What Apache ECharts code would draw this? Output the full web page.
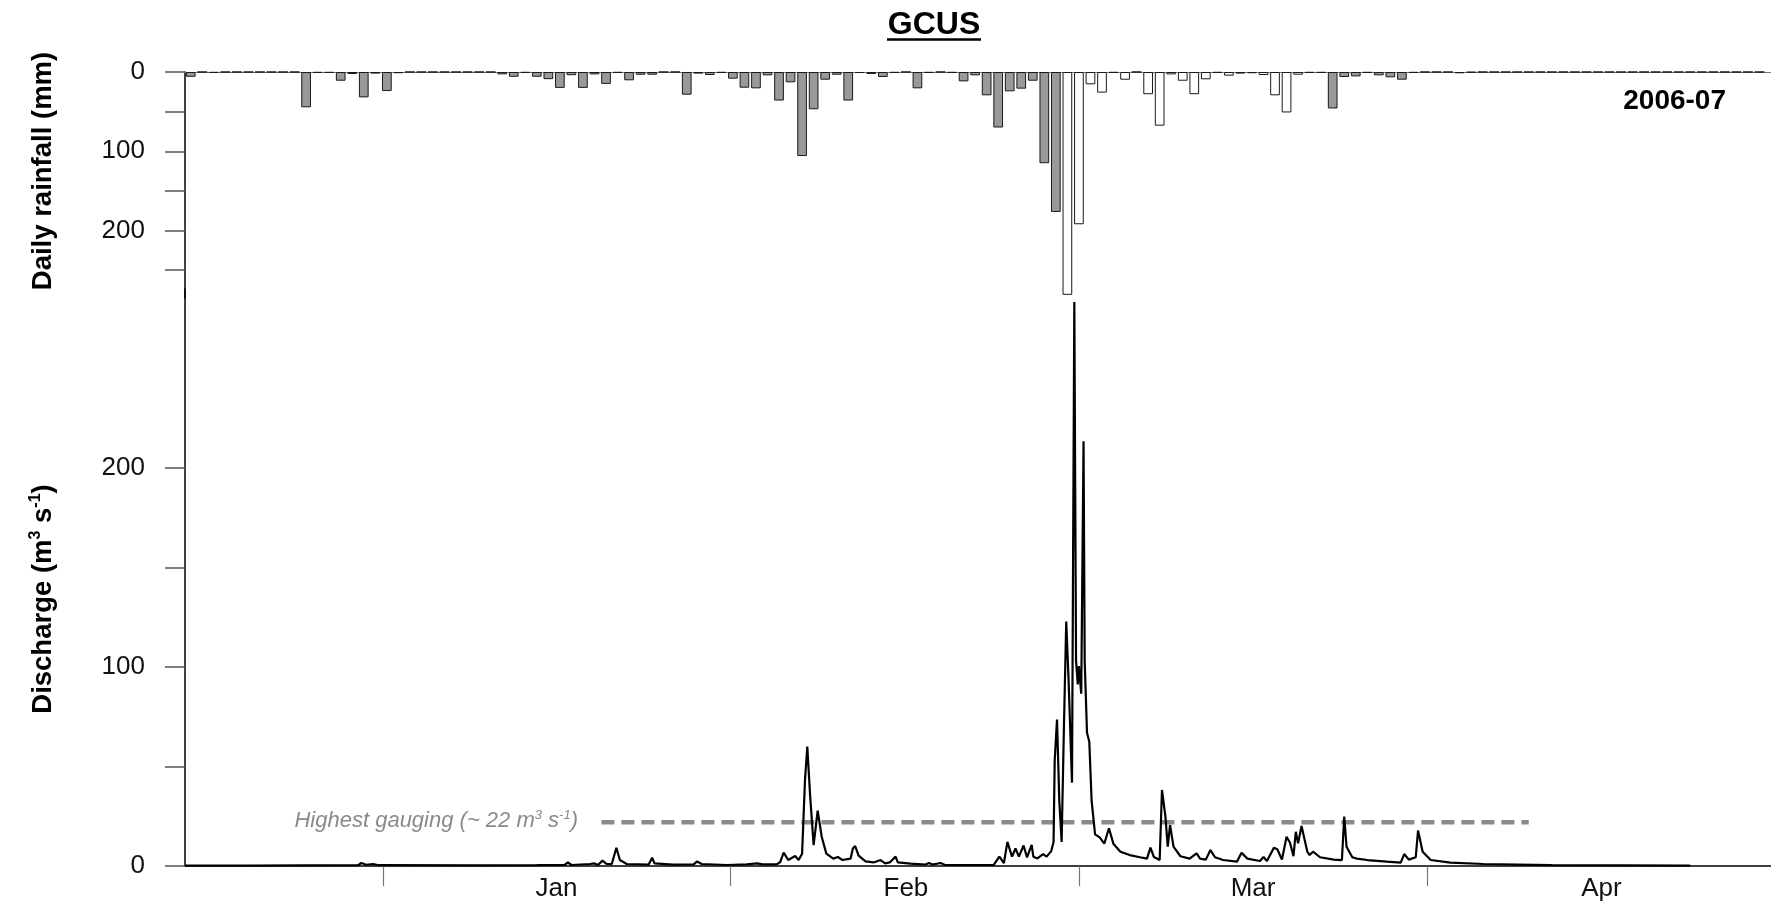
<!DOCTYPE html>
<html>
<head>
<meta charset="utf-8">
<script src="https://cdn.jsdelivr.net/npm/echarts@6/dist/echarts.min.js"></script>
<style>
  html, body { margin: 0; padding: 0; background: #fff; }
  #chart { width: 1771px; height: 906px; }
</style>
</head>
<body>
<div id="chart"></div>
<script>
// daily rainfall (mm), one value per day from day 0
const rainfall = [
  6, 0, 1, 0, 0, 0, 0, 0, 0, 0,
  44.5, 1, 1, 11, 2.5, 32, 2, 24, 1.5, 0,
  0, 0, 0, 0, 0, 0, 0, 3, 6, 1,
  6, 9, 20, 4, 20, 3, 15, 1, 10.5, 3.4,
  3.4, 0, 0, 28.6, 2, 3.8, 1, 8.4, 19.8, 20.6,
  4.2, 36, 13, 106, 47, 9.7, 3.4, 36, 1.3, 2.5,
  6.3, 1, 0, 20.6, 1, 0, 1, 11.8, 4.2, 29.4,
  70, 24.4, 21, 11, 115, 176.5, 281, 192, 15.5, 26,
  1, 9.7, 0, 28, 67.7, 3, 11, 28, 9.2, 1,
  4.6, 2, 1.5, 3.8, 29.4, 51, 3.4, 1, 1, 46,
  6.3, 5.5, 1, 4.2, 6.7, 9.7, 1, 0, 0, 0,
  1.6, 0.5, 0, 0, 0, 0, 0, 0, 0, 0,
  0, 0, 0, 0, 0, 0, 0, 0, 0, 0,
  0, 0, 0, 0, 0, 0, 0
];
// days drawn as open (white) bars
const whiteDays = [76, 96];

// discharge (m3/s) as [day, value]
const discharge = [
  [-0.5, 0.2], [5, 0.2], [10, 0.3], [14.5, 0.4], [14.8, 1.5], [15.2, 0.6], [15.8, 1.0], [16.3, 0.4],
  [25, 0.3], [30, 0.4], [32.4, 0.5], [32.7, 1.8], [33, 0.5], [34.6, 1.0], [35.0, 1.3], [35.3, 0.5],
  [35.7, 2.7], [36.05, 1.0], [36.5, 1.0], [36.9, 9.2], [37.2, 3.0], [37.8, 1.0], [39.7, 0.7], [40.0, 4.2],
  [40.2, 1.3], [41.8, 0.7], [43.6, 0.8], [43.9, 2.3], [44.3, 1.0], [46.5, 0.5], [48.2, 0.8], [49.1, 1.3],
  [49.6, 0.8], [50.8, 0.8], [51.1, 2.0], [51.4, 6.7], [51.8, 3.0], [52.4, 5.0], [52.7, 3.0], [53.0, 6.2],
  [53.25, 43], [53.45, 60], [53.7, 35], [54.0, 10.5], [54.35, 27.8], [54.7, 14.7], [55.1, 6.2], [55.7, 3.7],
  [56.1, 4.5], [56.5, 3.0], [57.2, 3.7], [57.4, 8.8], [57.6, 10], [57.9, 5.2], [58.5, 2.3], [59.2, 1.8],
  [59.8, 3.0], [60.2, 1.3], [60.6, 1.8], [61.1, 4.7], [61.3, 1.8], [62.4, 1.2], [63.7, 0.7], [64.0, 1.5],
  [64.3, 0.7], [65, 1.5], [65.4, 0.5], [69.6, 0.5], [70.1, 4.7], [70.5, 1.5], [70.8, 12.1], [71.2, 4.7],
  [71.5, 8.8], [71.8, 4.7], [72.2, 10.3], [72.5, 4.3], [72.9, 10.6], [73.05, 4.7], [73.4, 3.8], [73.9, 6],
  [74.2, 4.7], [74.6, 7.5], [74.8, 12.1], [74.9, 53], [75.1, 73.6], [75.3, 32.6], [75.5, 12.1], [75.7, 69.8],
  [75.9, 122.9], [76.1, 94], [76.4, 41.9], [76.6, 283.5], [76.75, 103.3], [76.9, 91.3], [77.0, 100.5], [77.2, 86.6],
  [77.4, 213.5], [77.5, 103], [77.7, 67], [77.9, 62.4], [78.1, 32.7], [78.4, 15.9], [78.8, 14.4], [79.2, 11.2],
  [79.6, 19.0], [80.0, 11], [80.6, 7.2], [81.4, 5.5], [82.3, 4.4], [82.9, 3.7], [83.2, 9.2], [83.5, 4.5],
  [84.0, 3.0], [84.2, 38.2], [84.5, 24.8], [84.7, 9.7], [84.9, 20.6], [85.2, 9.7], [85.8, 4.9], [86.6, 3.7],
  [87.2, 6.4], [87.5, 3.7], [88, 3.2], [88.4, 8.0], [88.8, 4.4], [89.5, 3.0], [90.7, 2.2], [91.1, 6.7],
  [91.6, 3.7], [92.7, 2.5], [93.0, 4.5], [93.3, 2.5], [93.9, 9.2], [94.2, 8.4], [94.6, 3.2], [95.0, 14.7],
  [95.3, 11.7], [95.6, 4.9], [95.8, 17.2], [96.0, 11.4], [96.3, 20.1], [96.8, 7.2], [97.0, 5.5], [97.3, 7.2],
  [97.9, 4.4], [99.1, 3.2], [99.8, 3.0], [100.0, 24.8], [100.2, 9.7], [100.7, 4.4], [101.1, 3.7], [102, 3.0],
  [103.7, 2.2], [104.9, 1.7], [105.2, 6.0], [105.6, 3.2], [106.2, 4.4], [106.4, 17.8], [106.8, 7.2], [107.5, 3.0],
  [109.2, 1.7], [112.1, 1.0], [115, 0.7], [118, 0.4], [124, 0.3], [130, 0.2]
];

// highest gauging reference line
const gauging = [[35.6, 22], [116.0, 22]];

// x axis: tick positions and month labels (day units)
const monthTicks = [16.65, 46.8, 77.0, 107.2];
const monthLabelPos = [31.7, 62.0, 92.1, 122.3];
const monthNames = ['Jan', 'Feb', 'Mar', 'Apr'];

const rainTicks = [0, 50, 100, 150, 200, 250];
const rainLabels = [0, 100, 200];
const flowTicks = [0, 50, 100, 150, 200];
const flowLabels = [0, 100, 200];

const FONT = '"Liberation Sans", Arial, sans-serif';

const chart = echarts.init(document.getElementById('chart'), null, { renderer: 'canvas' });

const rainData = rainfall.map(function (v, i) {
  const open = i >= whiteDays[0] && i <= whiteDays[1];
  return {
    value: [i, v],
    itemStyle: { color: open ? '#ffffff' : '#999999' }
  };
});

const yAxisBase = {
  type: 'value',
  axisLine: { show: true, onZero: false, lineStyle: { color: '#000', width: 1.5 } },
  axisTick: { show: true, length: 20, lineStyle: { color: '#555', width: 1.5 } },
  axisLabel: { margin: 40, fontFamily: FONT, fontSize: 26, color: '#111' },
  splitLine: { show: false }
};

chart.setOption({
  animation: false,
  backgroundColor: '#fff',
  grid: [
    { left: 185, width: 1586, top: 72, height: 226 },
    { left: 185, width: 1586, top: 289, height: 577 }
  ],
  xAxis: [
    {
      type: 'value', gridIndex: 0, min: -0.5, max: 137,
      axisLine: { show: true, lineStyle: { color: '#777', width: 1 } },
      axisTick: { show: false }, axisLabel: { show: false }, splitLine: { show: false }
    },
    {
      type: 'value', gridIndex: 1, min: -0.5, max: 137,
      axisLine: { show: true, lineStyle: { color: '#000', width: 1.5 } },
      axisTick: { show: true, length: 20, customValues: monthTicks, lineStyle: { color: '#777', width: 1.2 } },
      axisLabel: {
        show: true, customValues: monthLabelPos, margin: 10,
        fontFamily: FONT, fontSize: 26, color: '#111',
        formatter: function (v) {
          const k = monthLabelPos.indexOf(v);
          return k >= 0 ? monthNames[k] : '';
        }
      },
      splitLine: { show: false }
    }
  ],
  yAxis: [
    Object.assign({}, yAxisBase, {
      gridIndex: 0, inverse: true, min: 0, max: 285,
      axisTick: Object.assign({}, yAxisBase.axisTick, { customValues: rainTicks }),
      axisLabel: Object.assign({}, yAxisBase.axisLabel, { customValues: rainLabels })
    }),
    Object.assign({}, yAxisBase, {
      gridIndex: 1, min: 0, max: 290,
      axisTick: Object.assign({}, yAxisBase.axisTick, { customValues: flowTicks }),
      axisLabel: Object.assign({}, yAxisBase.axisLabel, { customValues: flowLabels })
    })
  ],
  series: [
    {
      name: 'Daily rainfall',
      type: 'bar',
      xAxisIndex: 0, yAxisIndex: 0,
      barWidth: 9.7,
      data: rainData,
      itemStyle: { borderColor: '#1a1a1a', borderWidth: 1 }
    },
    {
      name: 'Highest gauging',
      type: 'line',
      xAxisIndex: 1, yAxisIndex: 1,
      data: gauging,
      showSymbol: false,
      lineStyle: { color: '#8a8a8a', width: 4.5, type: [13, 7] },
      z: 2
    },
    {
      name: 'Discharge',
      type: 'line',
      xAxisIndex: 1, yAxisIndex: 1,
      data: discharge,
      showSymbol: false,
      lineStyle: { color: '#000', width: 2.2 },
      z: 3
    }
  ],
  graphic: [
    {
      type: 'text', x: 934, y: 25,
      style: {
        text: 'GCUS', font: 'bold 32px ' + FONT, fill: '#000',
        align: 'center', verticalAlign: 'middle', textAlign: 'center', textVerticalAlign: 'middle'
      }
    },
    { type: 'line', shape: { x1: 887, y1: 39.5, x2: 981, y2: 39.5 }, style: { stroke: '#000', lineWidth: 2.5 } },
    {
      type: 'text', x: 1726, y: 101,
      style: {
        text: '2006-07', font: 'bold 28px ' + FONT, fill: '#000',
        align: 'right', verticalAlign: 'middle', textAlign: 'right', textVerticalAlign: 'middle'
      }
    },
    {
      type: 'text', x: 43, y: 171, rotation: Math.PI / 2,
      style: {
        text: 'Daily rainfall (mm)', font: 'bold 27.5px ' + FONT, fill: '#000',
        align: 'center', verticalAlign: 'middle', textAlign: 'center', textVerticalAlign: 'middle'
      }
    },
    {
      type: 'text', x: 43, y: 599, rotation: Math.PI / 2,
      style: {
        text: '{a|Discharge (m}{s|3}{a| s}{s|-1}{a|)}',
        fill: '#000',
        align: 'center', verticalAlign: 'middle', textAlign: 'center', textVerticalAlign: 'middle',
        rich: {
          a: { font: 'bold 27.5px ' + FONT, fill: '#000', lineHeight: 30 },
          s: { font: 'bold 16px ' + FONT, fill: '#000', verticalAlign: 'top', lineHeight: 30 }
        }
      }
    },
    {
      type: 'text', x: 578, y: 821,
      style: {
        text: '{a|Highest gauging (~ 22 m}{s|3}{a| s}{s|-1}{a|)}',
        fill: '#8a8a8a',
        align: 'right', verticalAlign: 'middle', textAlign: 'right', textVerticalAlign: 'middle',
        rich: {
          a: { font: 'italic 22px ' + FONT, fill: '#8a8a8a', lineHeight: 24 },
          s: { font: 'italic 13px ' + FONT, fill: '#8a8a8a', verticalAlign: 'top', lineHeight: 24 }
        }
      }
    }
  ]
});
</script>
</body>
</html>
